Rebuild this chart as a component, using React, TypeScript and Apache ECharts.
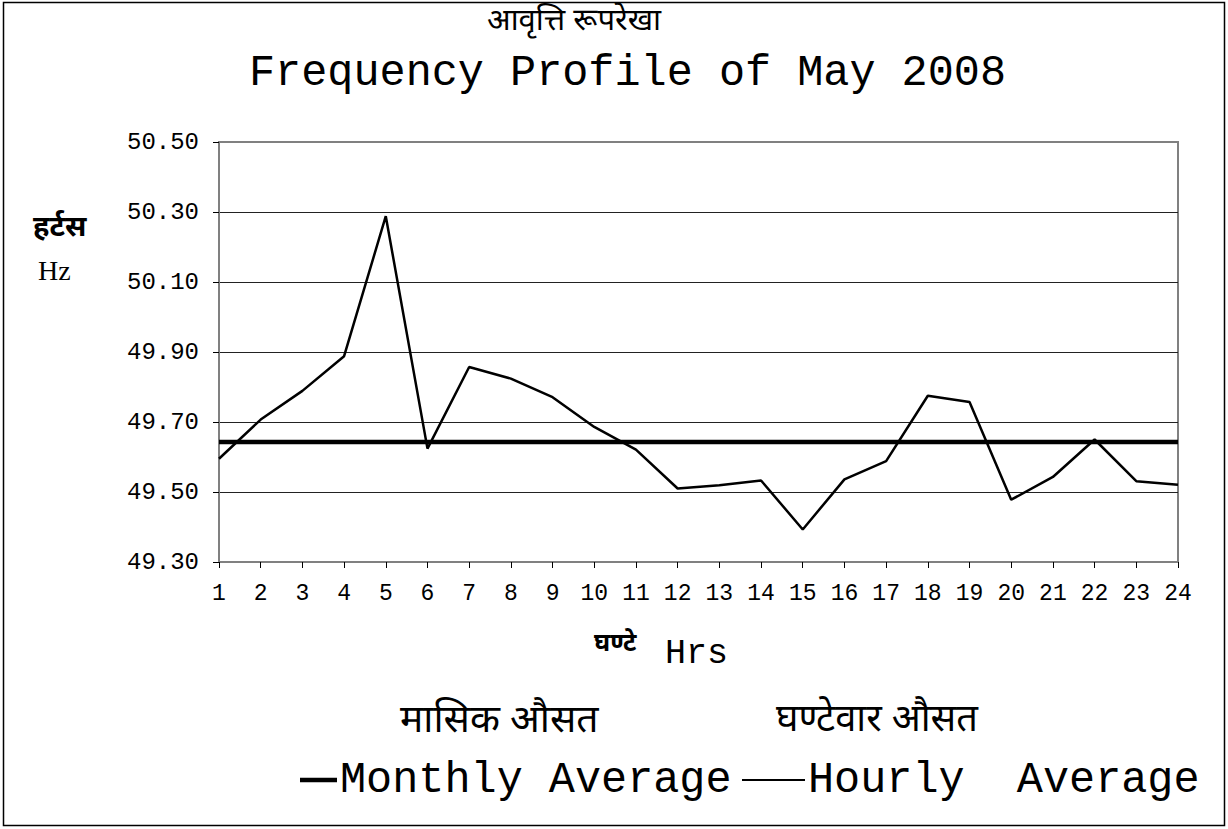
import React, { useEffect, useRef } from "react";
import * as echarts from "echarts";

const hours = ["1", "2", "3", "4", "5", "6", "7", "8", "9", "10", "11", "12", "13", "14", "15", "16", "17", "18", "19", "20", "21", "22", "23", "24"];
const hourlyAverage = [49.595, 49.707, 49.789, 49.888, 50.288, 49.624, 49.857, 49.824, 49.771, 49.686, 49.621, 49.510, 49.519, 49.533, 49.393, 49.536, 49.588, 49.775, 49.757, 49.478, 49.543, 49.650, 49.531, 49.521];
const monthlyAverageValue = 49.643;
const monthlyAverage = hours.map(() => monthlyAverageValue);
const yTicks = [49.3, 49.5, 49.7, 49.9, 50.1, 50.3, 50.5];

const titleHindi = "आवृत्ति रूपरेखा";
const titleEnglish = "Frequency Profile of May 2008";
const yNameHindi = "हर्टस";
const yNameEnglish = "Hz";
const xNameHindi = "घण्टे";
const xNameEnglish = "Hrs";
const legendHindi = ["मासिक औसत", "घण्टेवार औसत"];
const legendEnglish = ["Monthly Average", "Hourly  Average"];

const MONO = "'Liberation Mono', 'Courier New', monospace";
const DEVA = "'Noto Sans Devanagari', 'Lohit Devanagari', 'Mukta', 'FreeSerif', 'FreeSans', sans-serif";

export default function App() {
  const ref = useRef<HTMLDivElement>(null);
  useEffect(() => {
    if (!ref.current) return;
    const chart = echarts.init(ref.current, null, { renderer: "svg" });
    const interval = yTicks[1] - yTicks[0];
    chart.setOption({
      animation: false,
      backgroundColor: "#fff",
      grid: {
        left: 219,
        top: 142,
        width: 959,
        height: 420,
        show: true,
        borderColor: "#808080",
        borderWidth: 2,
        backgroundColor: "#fff",
      },
      xAxis: {
        type: "category",
        data: hours,
        boundaryGap: false,
        axisLine: { lineStyle: { color: "#808080", width: 2 } },
        axisTick: { show: true, length: 6, lineStyle: { color: "#000", width: 1 } },
        axisLabel: { color: "#000", fontFamily: MONO, fontSize: 23, margin: 20, interval: 0 },
        splitLine: { show: false },
      },
      yAxis: {
        type: "value",
        min: yTicks[0],
        max: yTicks[yTicks.length - 1],
        interval: interval,
        axisLine: { show: true, lineStyle: { color: "#808080", width: 2 } },
        axisTick: { show: true, length: 6, lineStyle: { color: "#000", width: 1 } },
        axisLabel: {
          color: "#000",
          fontFamily: MONO,
          fontSize: 24,
          margin: 20,
          formatter: (v: number) => v.toFixed(2),
        },
        splitLine: {
          show: true,
          lineStyle: { color: ["#808080", "#222", "#222", "#222", "#222", "#222", "#808080"], width: 1 },
        },
      },
      series: [
        {
          name: "Monthly Average",
          type: "line",
          data: monthlyAverage,
          symbol: "none",
          lineStyle: { color: "#000", width: 4.5 },
          z: 2,
        },
        {
          name: "Hourly Average",
          type: "line",
          data: hourlyAverage,
          symbol: "none",
          lineStyle: { color: "#000", width: 2.5 },
          z: 3,
        },
      ],
      graphic: [
        {
          type: "rect",
          shape: { x: 3.5, y: 2.5, width: 1221, height: 823 },
          style: { fill: "none", stroke: "#000", lineWidth: 1.5 },
          z: 100,
        },
        {
          type: "text",
          x: 574,
          y: 22,
          style: { text: titleHindi, font: `31px ${DEVA}`, fill: "#000", textAlign: "center", textVerticalAlign: "middle" },
        },
        {
          type: "text",
          x: 249,
          y: 73,
          style: { text: titleEnglish, font: `43.5px ${MONO}`, fill: "#000", textAlign: "left", textVerticalAlign: "middle" },
        },
        {
          type: "text",
          x: 33,
          y: 229,
          style: { text: yNameHindi, font: `bold 29px ${DEVA}`, fill: "#000", textAlign: "left", textVerticalAlign: "middle" },
        },
        {
          type: "text",
          x: 38,
          y: 270,
          style: { text: yNameEnglish, font: `28px 'Liberation Serif', serif`, fill: "#000", textAlign: "left", textVerticalAlign: "middle" },
        },
        {
          type: "text",
          x: 594,
          y: 645,
          style: { text: xNameHindi, font: `bold 25px ${DEVA}`, fill: "#000", textAlign: "left", textVerticalAlign: "middle" },
        },
        {
          type: "text",
          x: 665,
          y: 654,
          style: { text: xNameEnglish, font: `35px ${MONO}`, fill: "#000", textAlign: "left", textVerticalAlign: "middle" },
        },
        {
          type: "text",
          x: 400,
          y: 722,
          style: { text: legendHindi[0], font: `39px ${DEVA}`, fill: "#000", textAlign: "left", textVerticalAlign: "middle" },
        },
        {
          type: "text",
          x: 776,
          y: 722,
          style: { text: legendHindi[1], font: `38px ${DEVA}`, fill: "#000", textAlign: "left", textVerticalAlign: "middle" },
        },
        {
          type: "line",
          shape: { x1: 300, y1: 780, x2: 337, y2: 780 },
          style: { stroke: "#000", lineWidth: 4.5 },
        },
        {
          type: "text",
          x: 340,
          y: 780,
          style: { text: legendEnglish[0], font: `43.5px ${MONO}`, fill: "#000", textAlign: "left", textVerticalAlign: "middle" },
        },
        {
          type: "line",
          shape: { x1: 742, y1: 780, x2: 805, y2: 780 },
          style: { stroke: "#000", lineWidth: 2 },
        },
        {
          type: "text",
          x: 808,
          y: 780,
          style: { text: legendEnglish[1], font: `43.5px ${MONO}`, fill: "#000", textAlign: "left", textVerticalAlign: "middle" },
        },
      ],
    });
    return () => chart.dispose();
  }, []);
  return (
    <div
      ref={ref}
      style={{ position: "absolute", left: 0, top: 0, width: 1228, height: 829, background: "#fff" }}
    />
  );
}
